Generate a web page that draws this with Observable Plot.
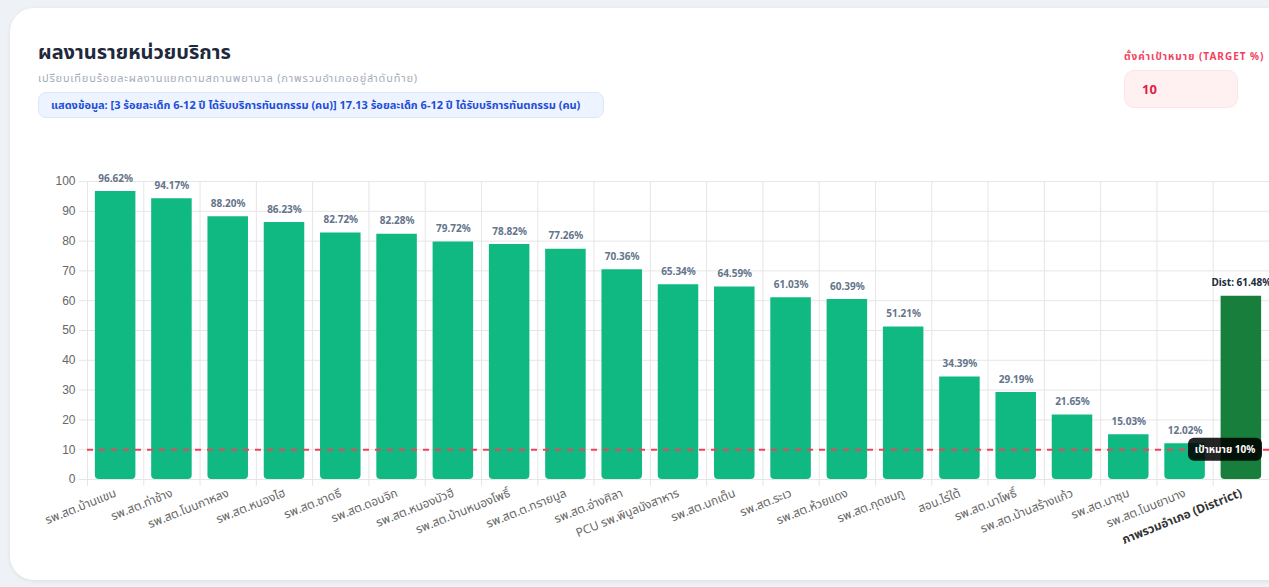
<!DOCTYPE html>
<html>
<head>
<meta charset="utf-8">
<script src="https://cdn.jsdelivr.net/npm/d3@7"></script>
<script src="https://cdn.jsdelivr.net/npm/@observablehq/plot@0.6"></script>
<style>
  html, body { margin: 0; padding: 0; }
  body { width: 1269px; height: 587px; overflow: hidden; background: #eef1f5; position: relative;
         font-family: "Noto Sans", "Noto Sans Thai", "DejaVu Sans", sans-serif; }
  .card { position: absolute; left: 10px; top: 8px; width: 1320px; height: 572px; background: #fff;
          border-radius: 24px; box-shadow: 0 1px 4px rgba(15,23,42,0.08); }
  .title { position: absolute; left: 38px; top: 38px; font-size: 20px; font-weight: 700; color: #1e293b; white-space: nowrap; }
  .subtitle { position: absolute; left: 38px; top: 70px; font-size: 11px; letter-spacing: 0.8px; color: #a3acb9; white-space: nowrap; }
  .info { position: absolute; left: 38px; top: 92px; width: 566px; height: 26px; box-sizing: border-box;
          background: #eef4ff; border: 1px solid #dbe6fb; border-radius: 8px; color: #1d4ed8;
          font-size: 11px; font-weight: 700; line-height: 24px; padding-left: 12px; white-space: nowrap; }
  .tlabel { position: absolute; left: 1124px; top: 49px; font-size: 10px; letter-spacing: 1px; font-weight: 700; color: #f43f5e; white-space: nowrap; }
  .tinput { position: absolute; left: 1124px; top: 70px; width: 114px; height: 38px; box-sizing: border-box;
            background: #fff1f2; border: 1px solid #ffe4e6; border-radius: 10px; color: #e11d48;
            font-size: 13px; font-weight: 700; line-height: 36px; padding-left: 17px; }
  #chart { position: absolute; left: 30px; top: 160px; }
  #chart svg { overflow: visible; }
</style>
</head>
<body>
<div class="card"></div>
<div class="title">ผลงานรายหน่วยบริการ</div>
<div class="subtitle">เปรียบเทียบร้อยละผลงานแยกตามสถานพยาบาล (ภาพรวมอำเภออยู่ลำดับท้าย)</div>
<div class="info">แสดงข้อมูล: [3 ร้อยละเด็ก 6-12 ปี ได้รับบริการทันตกรรม (คน)] 17.13 ร้อยละเด็ก 6-12 ปี ได้รับบริการทันตกรรม (คน)</div>
<div class="tlabel">ตั้งค่าเป้าหมาย (TARGET %)</div>
<div class="tinput">10</div>
<div id="chart"></div>
<script>
const units = [
  "รพ.สต.บ้านแขม", "รพ.สต.ท่าช้าง", "รพ.สต.โนนกาหลง", "รพ.สต.หนองไฮ", "รพ.สต.ชาดธี",
  "รพ.สต.ดอนจิก", "รพ.สต.หนองบัวฮี", "รพ.สต.บ้านหนองโพธิ์", "รพ.สต.ต.ทรายมูล", "รพ.สต.อ่างศิลา",
  "PCU รพ.พิบูลมังสาหาร", "รพ.สต.นกเต็น", "รพ.สต.ระเว", "รพ.สต.ห้วยแดง", "รพ.สต.กุดชมภู",
  "สอน.ไร่ใต้", "รพ.สต.นาโพธิ์", "รพ.สต.บ้านสร้างแก้ว", "รพ.สต.นาซุม", "รพ.สต.โนนยานาง",
  "ภาพรวมอำเภอ (District)"
];
const values = [
  96.62, 94.17, 88.20, 86.23, 82.72,
  82.28, 79.72, 78.82, 77.26, 70.36,
  65.34, 64.59, 61.03, 60.39, 51.21,
  34.39, 29.19, 21.65, 15.03, 12.02,
  61.48
];
const districtName = "ภาพรวมอำเภอ (District)";
const target = 10;
const yTicks = [0, 10, 20, 30, 40, 50, 60, 70, 80, 90, 100];

const data = units.map((u, i) => ({unit: u, value: values[i], district: u === districtName}));
const units_only = data.filter(d => !d.district);
const dist = data.filter(d => d.district);

const W = 1239, H = 427, ML = 57, MR = 0, MT = 21, MB = 108;
const step = (W - ML - MR) / units.length;
const gridColor = "#e6e6e6";

const targetLabel = (index, scales, vals, dims) => {
  const g = d3.create("svg:g");
  const y = scales.y(target);
  const right = dims.width - dims.marginRight - 7;
  const w = 74, h = 23;
  g.append("rect").attr("x", right - w).attr("y", y - h / 2).attr("width", w).attr("height", h)
    .attr("rx", 6).attr("fill", "rgba(0,0,0,0.86)");
  g.append("text").attr("x", right - w / 2).attr("y", y).attr("text-anchor", "middle")
    .attr("dominant-baseline", "central").attr("fill", "#fff").attr("font-size", 10)
    .attr("font-weight", 700).text(`เป้าหมาย ${target}%`);
  return g.node();
};

const chart = Plot.plot({
  width: W, height: H,
  marginLeft: ML, marginRight: MR, marginTop: MT, marginBottom: MB,
  style: {fontFamily: '"Noto Sans", "Noto Sans Thai", sans-serif', background: "transparent", overflow: "visible"},
  x: {type: "band", domain: units, paddingInner: 0.28, paddingOuter: 0.14, round: false, label: null},
  y: {domain: [0, 100], label: null},
  marks: [
    Plot.ruleY(yTicks, {y: d => d, stroke: gridColor, strokeWidth: 1, insetLeft: -8}),
    Plot.ruleX(units, {x: d => d, dx: -step / 2, stroke: gridColor, strokeWidth: 1, insetBottom: -7}),
    Plot.axisY({ticks: yTicks, tickSize: 0, tickPadding: 12, fontSize: 12, fill: "#666", fontFamily: '"Liberation Sans", Arial, sans-serif', label: null}),
    Plot.axisX({tickSize: 0, tickPadding: 13, tickRotate: -22, fontSize: 12, fill: "#666", label: null,
      tickFormat: d => d === districtName ? "" : d}),
    Plot.axisX({ticks: [districtName], tickSize: 0, tickPadding: 13, tickRotate: -22, fontSize: 12, fill: "#333", fontWeight: 700, label: null}),
    Plot.barY(units_only, {x: "unit", y: "value", fill: "#10b981", ry2: 4}),
    Plot.barY(dist, {x: "unit", y: "value", fill: "#177f3b", ry2: 4}),
    Plot.ruleY([target], {y: d => d, stroke: "#f43f5e", strokeWidth: 2, strokeDasharray: "6,6"}),
    Plot.text(units_only, {x: "unit", y: "value", text: d => d.value.toFixed(2) + "%", dy: -10, lineAnchor: "bottom",
      fill: "#64748b", fontSize: 10, fontWeight: 700}),
    Plot.text(dist, {x: "unit", y: "value", text: d => "Dist: " + d.value.toFixed(2) + "%", dy: -10, lineAnchor: "bottom",
      fill: "#1e293b", fontSize: 10, fontWeight: 700}),
    targetLabel
  ]
});
document.getElementById("chart").appendChild(chart);
</script>
</body>
</html>
